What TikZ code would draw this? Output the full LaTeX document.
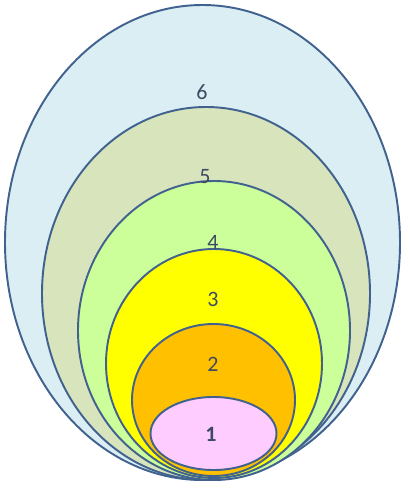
\documentclass[tikz,border=0pt]{standalone}
\usepackage{fontspec}
\setmainfont{Carlito}
\definecolor{ringline}{HTML}{41628F}
\definecolor{labeltext}{HTML}{3E4A63}
\definecolor{fillsix}{HTML}{DAEEF3}
\definecolor{fillfive}{HTML}{D8E4BC}
\definecolor{fillfour}{HTML}{CCFF99}
\definecolor{fillthree}{HTML}{FFFF00}
\definecolor{filltwo}{HTML}{FFC000}
\definecolor{fillone}{HTML}{FFCCFF}
\tikzset{
  ring/.style={draw=ringline, line width=1.1pt},
  ringlabel/.style={text=labeltext, font=\fontsize{12.5}{14}\selectfont, inner sep=0pt}
}
\begin{document}
\begin{tikzpicture}[x=0.02cm, y=-0.02cm]
    \useasboundingbox (0,0) rectangle (409,496);
    % nested rings, outermost first
    \draw[ring, fill=fillsix]   (202.5,242.5) ellipse [x radius=197.5, y radius=237.5];
    \draw[ring, fill=fillfive]  (206,293.5)   ellipse [x radius=164, y radius=186.5];
    \draw[ring, fill=fillfour]  (214,330.5)   ellipse [x radius=136, y radius=149.5];
    \draw[ring, fill=fillthree] (214,363.5)   ellipse [x radius=108, y radius=114.5];
    \draw[ring, fill=filltwo]   (213.5,400)   ellipse [x radius=81.5, y radius=76];
    \draw[ring, fill=fillone]   (213.5,433.5) ellipse [x radius=63, y radius=36.5];
    % labels
    \node[ringlabel] (six)   at (202,92)  {6};
    \node[ringlabel] (five)  at (205,177) {5};
    \node[ringlabel] (four)  at (213,242) {4};
    \node[ringlabel] (three) at (213,299) {3};
    \node[ringlabel] (two)   at (213,364) {2};
    \node[ringlabel, font=\fontsize{12.5}{14}\selectfont\bfseries] (one) at (211,434) {1};
\end{tikzpicture}
\end{document}
